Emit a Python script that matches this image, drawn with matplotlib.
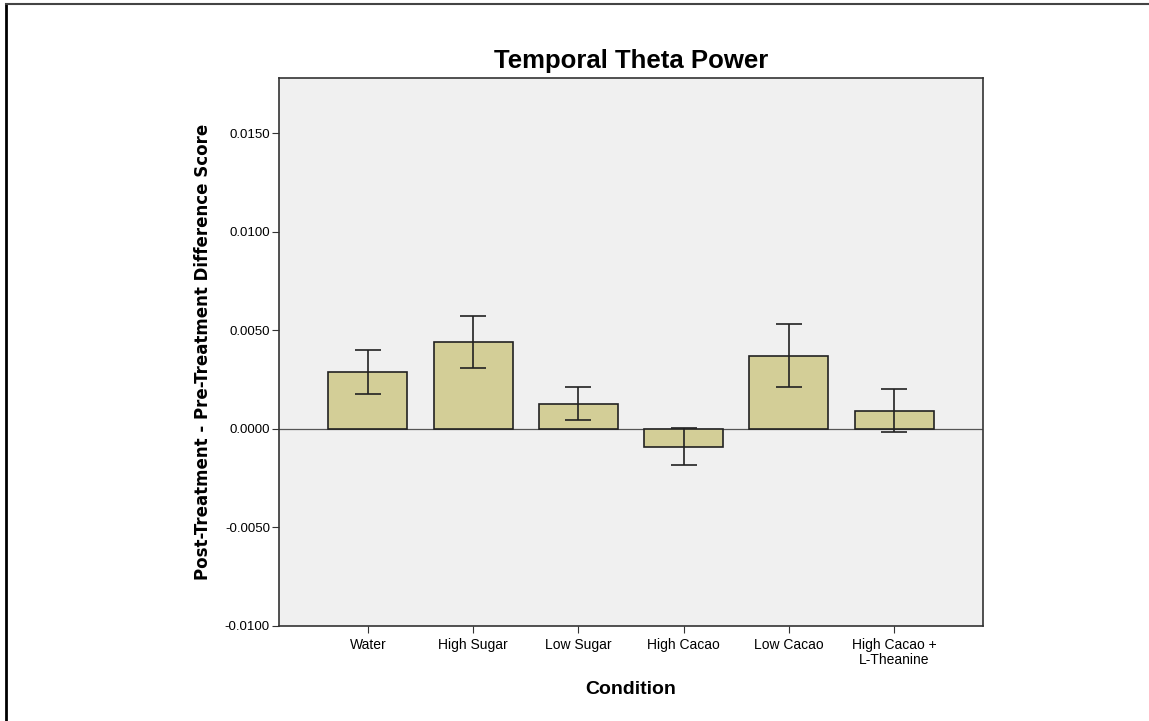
import matplotlib
matplotlib.use('Agg')
import matplotlib.pyplot as plt
from matplotlib.ticker import FormatStrFormatter
import numpy as np

plt.rcParams['font.family'] = ['Liberation Sans', 'DejaVu Sans']

conditions = ['Water', 'High Sugar', 'Low Sugar', 'High Cacao', 'Low Cacao', 'High Cacao +\nL-Theanine']
means = [0.00287, 0.00442, 0.00128, -0.00090, 0.00372, 0.00093]
err_low = [0.00176, 0.00307, 0.00045, -0.00183, 0.00211, -0.00015]
err_high = [0.00400, 0.00575, 0.00213, 0.00003, 0.00530, 0.00200]

means = np.array(means)
yerr = [means - np.array(err_low), np.array(err_high) - means]
x = np.arange(len(conditions))

fig = plt.figure(figsize=(11.49, 7.21), dpi=100)
ax = fig.add_axes([0.2428, 0.1318, 0.6127, 0.76])
ax.set_facecolor('#f0f0f0')

ax.axhline(0, color='#555555', lw=0.9, zorder=1)
ax.bar(x, means, width=0.75, color='#d3ce97', edgecolor='#222222', linewidth=1.2, zorder=2)
ax.errorbar(x, means, yerr=yerr, fmt='none', ecolor='#222222', elinewidth=1.2,
            capsize=9.5, capthick=1.2, zorder=3)

ax.set_xlim(-0.845, 5.845)
ax.set_ylim(-0.01, 0.0178)
ax.set_yticks([-0.01, -0.005, 0.0, 0.005, 0.01, 0.015])
ax.yaxis.set_major_formatter(FormatStrFormatter('%.4f'))
ax.set_xticks(x)
ax.set_xticklabels(conditions, fontsize=10, linespacing=1.1)
ax.tick_params(axis='y', labelsize=9.5, length=5, pad=1.5, color='#333333')
ax.tick_params(axis='x', length=5, color='#333333')
for s in ax.spines.values():
    s.set_color('#333333')
    s.set_linewidth(1.2)

ax.set_title('Temporal Theta Power', fontsize=18.5, fontweight='bold', pad=7)
ax.set_xlabel('Condition', fontsize=14, fontweight='bold', labelpad=10)
ax.set_ylabel('Post-Treatment - Pre-Treatment Difference Score', fontsize=12,
              fontweight='bold', labelpad=9, family=['DejaVu Sans'])

# outer frame (left and top edges visible)
fig.add_artist(plt.Line2D([0.0055, 0.0055], [0, 0.995], color='black', lw=2, transform=fig.transFigure))
fig.add_artist(plt.Line2D([0.0055, 1], [0.995, 0.995], color='#444444', lw=1.5, transform=fig.transFigure))

fig.savefig('out.png', dpi=100)
